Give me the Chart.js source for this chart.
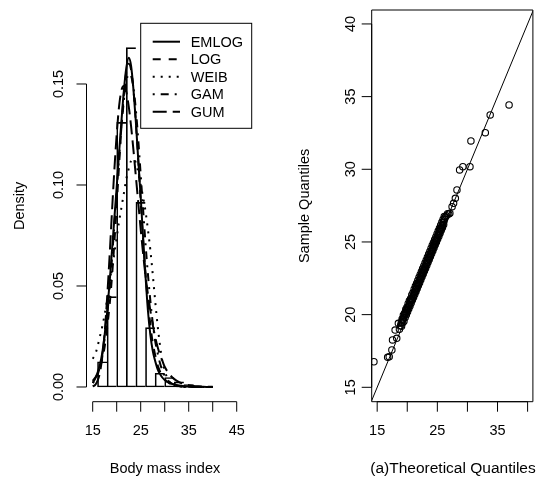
<!DOCTYPE html>
<html>
<head>
<meta charset="utf-8">
<title>Body mass index fits</title>
<script src="https://cdn.jsdelivr.net/npm/chart.js@4.4.1/dist/chart.umd.min.js"></script>
<style>
  html, body { margin: 0; padding: 0; background: #fff; }
  #wrap { position: relative; width: 538px; height: 478px; }
  canvas { position: absolute; top: 0; }
</style>
</head>
<body>
<div id="wrap">
  <canvas id="histChart" width="269" height="478" style="left:0"></canvas>
  <canvas id="qqChart" width="269" height="478" style="left:269px"></canvas>
</div>
<script>
"use strict";

// ---- histogram (bins of width 2, density) ----
const binMids = [17, 19, 21, 23, 25, 27, 29, 31, 33, 35];
const binDensity = [0.0125, 0.0447, 0.131, 0.168, 0.0914, 0.0294, 0.0068, 0.0047, 0.0025, 0.0012];

// ---- fitted densities ----
const xGrid = [15, 15.5, 16, 16.5, 17, 17.5, 18, 18.5, 19, 19.5, 20, 20.5, 21, 21.5, 22, 22.5,
  23, 23.5, 24, 24.5, 25, 25.5, 26, 26.5, 27, 27.5, 28, 28.5, 29, 29.5, 30,
  31, 32, 33, 34, 35, 36, 37, 38, 39, 40];
const emlog = [0.002, 0.004, 0.007, 0.011, 0.017, 0.026, 0.037, 0.051, 0.067, 0.083, 0.099, 0.116,
  0.132, 0.147, 0.158, 0.163, 0.159, 0.147, 0.131, 0.112, 0.094, 0.074, 0.055, 0.038, 0.026, 0.018,
  0.013, 0.009, 0.0065, 0.0047, 0.0035, 0.002, 0.0012, 0.0007, 0.0004, 0.00025, 0.00015, 0.0001,
  0.00006, 0.00004, 0.00002];
const logis = [0.003, 0.0045, 0.0065, 0.0095, 0.014, 0.020, 0.029, 0.040, 0.054, 0.071, 0.090, 0.110,
  0.129, 0.145, 0.156, 0.160, 0.157, 0.147, 0.131, 0.112, 0.092, 0.073, 0.056, 0.042, 0.031, 0.022,
  0.016, 0.011, 0.0078, 0.0055, 0.0038, 0.0018, 0.0009, 0.0004, 0.0002, 0.0001, 0.00005, 0.00002,
  0.00001, 0, 0];
const weib = [0.014, 0.016, 0.020, 0.025, 0.030, 0.036, 0.043, 0.050, 0.058, 0.066, 0.074, 0.082,
  0.089, 0.096, 0.103, 0.108, 0.112, 0.113, 0.111, 0.106, 0.100, 0.094, 0.087, 0.078, 0.068, 0.056,
  0.043, 0.031, 0.021, 0.013, 0.008, 0.0025, 0.0008, 0.0002, 0.00005, 0.00001, 0, 0, 0, 0, 0];
const gam = [0.002, 0.0035, 0.006, 0.010, 0.016, 0.024, 0.035, 0.048, 0.063, 0.080, 0.097, 0.114,
  0.129, 0.142, 0.151, 0.155, 0.154, 0.148, 0.137, 0.122, 0.105, 0.088, 0.071, 0.056, 0.043, 0.032,
  0.023, 0.017, 0.012, 0.0082, 0.0056, 0.0025, 0.0011, 0.0005, 0.0002, 0.0001, 0.00004, 0.00002,
  0.00001, 0, 0];
const gum = [0.0003, 0.001, 0.003, 0.007, 0.015, 0.027, 0.044, 0.064, 0.086, 0.107, 0.125, 0.139,
  0.147, 0.149, 0.146, 0.139, 0.129, 0.117, 0.104, 0.091, 0.078, 0.066, 0.055, 0.046, 0.038, 0.031,
  0.025, 0.020, 0.016, 0.013, 0.010, 0.0063, 0.0039, 0.0024, 0.0015, 0.0009, 0.00055, 0.00034,
  0.0002, 0.00013, 0.00008];
const fitNames = ["EMLOG", "LOG", "WEIB", "GAM", "GUM"];

const histXTicks = [15, 20, 25, 30, 35, 40, 45];
const histXLabels = [15, 25, 35, 45];
const histYTicks = [0, 0.05, 0.10, 0.15];

// ---- QQ plot ----
const theoQ = [14.46, 16.74, 17.0, 17.44, 17.55, 17.98, 18.25, 18.52, 18.7, 18.9,
  19.0, 19.1, 19.2, 19.3, 19.4, 19.5, 19.6, 19.7, 19.8, 19.9,
  20.0, 20.1, 20.2, 20.3, 20.4, 20.5, 20.6, 20.7, 20.8, 20.9,
  21.0, 21.1, 21.2, 21.3, 21.4, 21.5, 21.6, 21.7, 21.8, 21.9,
  22.0, 22.1, 22.2, 22.3, 22.4, 22.5, 22.6, 22.7, 22.8, 22.9,
  23.0, 23.1, 23.2, 23.3, 23.4, 23.5, 23.6, 23.7, 23.8, 23.9,
  24.0, 24.1, 24.2, 24.3, 24.4, 24.5, 24.6, 24.7, 24.8, 24.9,
  25.0, 25.1, 25.2, 25.3, 25.4, 25.5, 25.6, 25.7, 25.8, 25.9,
  26.0, 26.1, 26.2, 26.35, 26.5, 26.7, 26.9, 27.08, 27.45, 27.7,
  27.99, 28.26, 28.7, 29.24, 30.42, 30.58, 32.97, 33.78, 36.92,
  19.05, 19.15, 19.25, 19.35, 19.45, 19.55, 19.65, 19.75, 19.85, 19.95,
  20.05, 20.15, 20.25, 20.35, 20.45, 20.55, 20.65, 20.75, 20.85, 20.95,
  21.05, 21.15, 21.25, 21.35, 21.45, 21.55, 21.65, 21.75, 21.85, 21.95,
  22.05, 22.15, 22.25, 22.35, 22.45, 22.55, 22.65, 22.75, 22.85, 22.95,
  23.05, 23.15, 23.25, 23.35, 23.45, 23.55, 23.65, 23.75, 23.85, 23.95,
  24.05, 24.15, 24.25, 24.35, 24.45, 24.55, 24.65, 24.75, 24.85, 24.95,
  25.05, 25.15, 25.25, 25.35, 25.45, 25.55, 25.65, 25.75, 25.85, 25.95,
  26.05, 26.15];
const sampleQ = [16.76, 17.06, 17.1, 17.57, 18.26, 18.94, 18.37, 19.4, 19.0, 19.25,
  19.45, 19.5, 19.62, 19.7, 19.78, 19.95, 20.02, 20.1, 20.16, 20.3,
  20.36, 20.45, 20.55, 20.64, 20.72, 20.88, 20.96, 21.02, 21.1, 21.2,
  21.3, 21.38, 21.52, 21.6, 21.7, 21.8, 21.9, 22.05, 22.12, 22.2,
  22.32, 22.42, 22.5, 22.6, 22.72, 22.8, 22.92, 23.0, 23.12, 23.2,
  23.3, 23.42, 23.52, 23.6, 23.72, 23.82, 23.9, 24.02, 24.1, 24.2,
  24.34, 24.42, 24.5, 24.62, 24.72, 24.8, 24.95, 25.04, 25.12, 25.2,
  25.32, 25.44, 25.52, 25.6, 25.74, 25.85, 25.92, 26.02, 26.1, 26.22,
  26.35, 26.45, 26.58, 26.72, 26.8, 26.95, 26.92, 26.98, 27.43, 27.66,
  28.0, 28.58, 29.96, 30.18, 30.18, 31.95, 32.52, 33.74, 34.43,
  19.2, 19.7, 19.45, 19.95, 19.55, 20.1, 19.8, 20.35, 20.0, 20.5,
  20.2, 20.75, 20.4, 20.95, 20.6, 21.1, 20.8, 21.35, 21.0, 21.5,
  21.2, 21.75, 21.4, 21.95, 21.6, 22.15, 21.8, 22.35, 22.0, 22.55,
  22.2, 22.75, 22.4, 22.95, 22.6, 23.15, 22.8, 23.35, 23.0, 23.55,
  23.2, 23.75, 23.4, 23.95, 23.6, 24.15, 23.8, 24.35, 24.0, 24.55,
  24.2, 24.75, 24.4, 24.95, 24.6, 25.15, 24.8, 25.35, 25.0, 25.55,
  25.2, 25.75, 25.4, 25.95, 25.6, 26.15, 25.8, 26.35, 26.0, 26.55,
  26.2, 26.75];
const refLine = [14, 41];
const qqXTicks = [15, 20, 25, 30, 35, 40];
const qqXLabels = [15, 25, 35];
const qqYTicks = [15, 20, 25, 30, 35, 40];

const FONT_FAMILY = '"Liberation Sans", Arial, Helvetica, sans-serif';

// R-style axes: detached lines, outward ticks, rotated y labels
const rAxes = {
  id: "rAxes",
  afterDatasetsDraw(chart, args, o) {
    if (!o || !o.xTicks) return;
    const ctx = chart.ctx;
    const a = chart.chartArea;
    const sx = chart.scales.x, sy = chart.scales.y;
    ctx.save();
    ctx.strokeStyle = "#000";
    ctx.fillStyle = "#000";
    ctx.lineWidth = 1;
    ctx.beginPath();
    if (o.box) {
      ctx.rect(a.left, a.top, a.right - a.left, a.bottom - a.top);
    }
    const xb = a.bottom;
    ctx.moveTo(sx.getPixelForValue(o.xTicks[0]), xb);
    ctx.lineTo(sx.getPixelForValue(o.xTicks[o.xTicks.length - 1]), xb);
    o.xTicks.forEach(v => {
      const p = sx.getPixelForValue(v);
      ctx.moveTo(p, xb);
      ctx.lineTo(p, xb + 10);
    });
    const yl = a.left;
    ctx.moveTo(yl, sy.getPixelForValue(o.yTicks[0]));
    ctx.lineTo(yl, sy.getPixelForValue(o.yTicks[o.yTicks.length - 1]));
    o.yTicks.forEach(v => {
      const p = sy.getPixelForValue(v);
      ctx.moveTo(yl, p);
      ctx.lineTo(yl - 10, p);
    });
    ctx.stroke();

    ctx.font = "14.5px " + FONT_FAMILY;
    ctx.textAlign = "center";
    ctx.textBaseline = "alphabetic";
    o.xLabels.forEach(v => ctx.fillText(String(v), sx.getPixelForValue(v), 435));
    o.yTicks.forEach(v => {
      ctx.save();
      ctx.translate(yl - o.yTickGap, sy.getPixelForValue(v));
      ctx.rotate(-Math.PI / 2);
      ctx.fillText(o.yFmt(v), 0, 0);
      ctx.restore();
    });
    ctx.save();
    ctx.translate(yl - o.yTitleGap, (a.top + a.bottom) / 2);
    ctx.rotate(-Math.PI / 2);
    ctx.fillText(o.yTitle, 0, 0);
    ctx.restore();
    ctx.font = o.xTitleSize + "px " + FONT_FAMILY;
    ctx.fillText(o.xTitle, o.xTitleX, 473.3);
    ctx.restore();
  }
};

// legend box in the top right of the histogram
const rLegend = {
  id: "rLegend",
  afterDatasetsDraw(chart, args, o) {
    if (!o || !o.show) return;
    const ctx = chart.ctx;
    ctx.save();
    ctx.fillStyle = "#fff";
    ctx.fillRect(o.x, o.y, o.w, o.h);
    ctx.strokeStyle = "#000";
    ctx.lineWidth = 1;
    ctx.strokeRect(o.x, o.y, o.w, o.h);
    ctx.font = "14.5px " + FONT_FAMILY;
    ctx.fillStyle = "#000";
    ctx.textAlign = "left";
    ctx.textBaseline = "alphabetic";
    const lines = chart.data.datasets.filter(d => d.type === "line");
    lines.forEach((d, i) => {
      const yy = o.y + 18.4 + i * 17.5;
      ctx.beginPath();
      ctx.setLineDash(d.borderDash || []);
      ctx.lineWidth = d.borderWidth;
      ctx.moveTo(o.x + 12, yy);
      ctx.lineTo(o.x + 39.3, yy);
      ctx.stroke();
      ctx.setLineDash([]);
      ctx.fillText(d.label, o.x + 50, yy + 5.2);
    });
    ctx.restore();
  }
};

Chart.register(rAxes, rLegend);

const fits = [emlog, logis, weib, gam, gum];
const dashes = [[], [8, 8], [2, 6], [2, 6, 8, 6], [14, 6]];

const fitSets = fits.map((vals, i) => ({
  type: "line",
  label: fitNames[i],
  data: xGrid.map((x, j) => ({ x: x, y: vals[j] })),
  borderColor: "#000",
  borderWidth: 2,
  borderDash: dashes[i],
  pointRadius: 0,
  cubicInterpolationMode: "monotone",
  fill: false,
  order: i
}));

const histSet = {
  type: "bar",
  label: "hist",
  data: binMids.map((x, i) => ({ x: x, y: binDensity[i] })),
  backgroundColor: "rgba(255,255,255,0)",
  borderColor: "#000",
  borderWidth: c => ({ top: 1, bottom: 1, left: 1, right: c.dataIndex === binMids.length - 1 ? 1 : 0 }),
  borderSkipped: false,
  barPercentage: 1,
  categoryPercentage: 1,
  order: 10
};

let histChart = new Chart(document.getElementById("histChart").getContext("2d"), {
  type: "bar",
  data: { datasets: [histSet].concat(fitSets) },
  options: {
    responsive: false,
    animation: false,
    events: [],
    layout: { padding: { left: 86.5, right: 17.5, top: 10, bottom: 76.3 } },
    scales: {
      x: { type: "linear", min: 13.71, max: 48.08, offset: false, display: false },
      y: { type: "linear", min: -0.00728, max: 0.18663, display: false }
    },
    plugins: {
      legend: { display: false },
      tooltip: { enabled: false },
      rAxes: {
        xTicks: histXTicks, xLabels: histXLabels, yTicks: histYTicks,
        yFmt: v => v.toFixed(2), yTickGap: 23.2, yTitleGap: 62.8,
        yTitle: "Density", xTitle: "Body mass index", xTitleX: 165, xTitleSize: 14.5,
        box: false
      },
      rLegend: { show: true, x: 140.7, y: 23.3, w: 111, h: 105 }
    }
  }
});

let qqChart = new Chart(document.getElementById("qqChart").getContext("2d"), {
  type: "scatter",
  data: {
    datasets: [{
      label: "qq",
      data: theoQ.map((x, i) => ({ x: x, y: sampleQ[i] })),
      pointRadius: 3.2,
      pointBorderWidth: 1.1,
      pointBackgroundColor: "rgba(255,255,255,0)",
      pointBorderColor: "#000",
      order: 1
    }, {
      type: "line",
      label: "qqline",
      data: refLine.map(v => ({ x: v, y: v })),
      borderColor: "#000",
      borderWidth: 1,
      pointRadius: 0,
      fill: false,
      order: 2
    }]
  },
  options: {
    responsive: false,
    animation: false,
    events: [],
    layout: { padding: { left: 102.7, right: 1.3, top: 10, bottom: 76.3 } },
    scales: {
      x: { type: "linear", min: 14.09, max: 40.88, display: false },
      y: { type: "linear", min: 14.01, max: 40.96, display: false }
    },
    plugins: {
      legend: { display: false },
      tooltip: { enabled: false },
      rAxes: {
        xTicks: qqXTicks, xLabels: qqXLabels, yTicks: qqYTicks,
        yFmt: v => String(v), yTickGap: 16.7, yTitleGap: 62.7,
        yTitle: "Sample Quantiles", xTitle: "(a)Theoretical Quantiles", xTitleX: 453 - 269, xTitleSize: 15.5,
        box: true
      }
    }
  }
});
</script>
</body>
</html>
